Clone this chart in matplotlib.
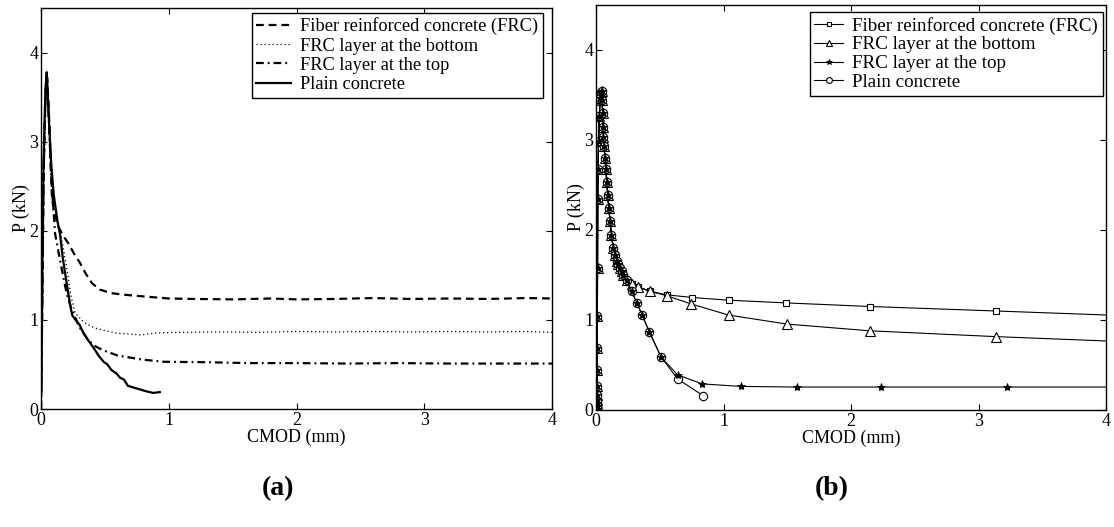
import matplotlib
matplotlib.use("Agg")
import matplotlib.pyplot as plt

plt.rcParams['font.family'] = ['Liberation Serif', 'DejaVu Serif']
plt.rcParams['mathtext.fontset'] = 'stix'

# ---------------- panel (a) data ----------------
frc_a_x = [0.0, 0.01, 0.02, 0.035, 0.048, 0.06, 0.075, 0.085, 0.1, 0.135, 0.17, 0.214, 0.26, 0.305,
           0.35, 0.4, 0.46, 0.55, 0.67, 0.83, 1.0, 1.2, 1.5, 1.8, 2.0, 2.3, 2.6, 2.9, 3.2, 3.5, 3.8, 4.0]
frc_a_y = [0.0, 1.2, 2.6, 3.5, 3.72, 3.4, 2.8, 2.4, 2.22, 2.05, 1.95, 1.86, 1.74, 1.64,
           1.52, 1.41, 1.34, 1.30, 1.28, 1.26, 1.24, 1.235, 1.23, 1.24, 1.23, 1.235, 1.245, 1.235, 1.24, 1.235, 1.245, 1.24]

bot_a_x = [0.0, 0.01, 0.02, 0.035, 0.045, 0.06, 0.08, 0.1, 0.13, 0.162, 0.2, 0.23, 0.266, 0.317, 0.36,
           0.42, 0.5, 0.6, 0.7, 0.78, 0.85, 0.93, 1.1, 1.4, 1.7, 2.0, 2.3, 2.6, 2.9, 3.2, 3.5, 3.8, 4.0]
bot_a_y = [0.0, 1.2, 2.6, 3.5, 3.7, 3.3, 2.6, 2.3, 2.1, 1.9, 1.6, 1.3, 1.08, 1.0, 0.95,
           0.91, 0.88, 0.85, 0.84, 0.83, 0.845, 0.855, 0.86, 0.865, 0.86, 0.87, 0.865, 0.87, 0.865, 0.87, 0.865, 0.87, 0.86]

top_a_x = [0.0, 0.01, 0.02, 0.035, 0.045, 0.06, 0.08, 0.11, 0.149, 0.2, 0.24, 0.3, 0.37, 0.43,
           0.485, 0.6, 0.79, 0.96, 1.3, 1.63, 2.0, 2.4, 2.8, 3.2, 3.6, 4.0]
top_a_y = [0.0, 1.2, 2.6, 3.5, 3.75, 3.3, 2.6, 1.97, 1.67, 1.3, 1.12, 0.92, 0.77, 0.7,
           0.66, 0.6, 0.555, 0.53, 0.525, 0.515, 0.515, 0.51, 0.515, 0.51, 0.51, 0.51]

plain_a_x = [0.003, 0.01, 0.02, 0.035, 0.045, 0.06, 0.08, 0.1, 0.13, 0.15, 0.17, 0.2, 0.23, 0.245, 0.27,
             0.3, 0.33, 0.37, 0.41, 0.45, 0.49, 0.52, 0.55, 0.59, 0.62, 0.65, 0.68, 0.75, 0.82, 0.88, 0.93]
plain_a_y = [0.2, 1.5, 2.8, 3.6, 3.78, 3.3, 2.75, 2.4, 2.1, 1.95, 1.7, 1.42, 1.15, 1.05, 1.0,
             0.95, 0.86, 0.77, 0.69, 0.6, 0.53, 0.5, 0.44, 0.4, 0.35, 0.33, 0.26, 0.23, 0.2, 0.18, 0.19]

# ---------------- panel (b) data ----------------
shared_b_x = [0.005, 0.008, 0.009, 0.01, 0.01, 0.01, 0.01, 0.01, 0.011, 0.011, 0.012, 0.014, 0.016,
              0.02, 0.026, 0.033, 0.04, 0.045, 0.048, 0.052, 0.055, 0.058, 0.063, 0.07, 0.077, 0.085,
              0.092, 0.1, 0.11, 0.12, 0.136, 0.15, 0.162, 0.175, 0.188, 0.2, 0.214, 0.24]
shared_b_y = [0.0, 0.01, 0.04, 0.075, 0.11, 0.17, 0.27, 0.44, 0.685, 1.05, 1.58, 2.34, 2.68,
              2.99, 3.27, 3.47, 3.53, 3.55, 3.45, 3.3, 3.14, 3.03, 2.93, 2.8, 2.68, 2.53,
              2.39, 2.25, 2.1, 1.95, 1.8, 1.72, 1.66, 1.62, 1.58, 1.54, 1.5, 1.45]

frc_b_x = [0.28, 0.33, 0.42, 0.554, 0.755, 1.04, 1.49, 2.15, 3.14, 4.4]
frc_b_y = [1.40, 1.37, 1.32, 1.28, 1.25, 1.22, 1.19, 1.15, 1.10, 1.035]

bot_b_x = [0.28, 0.33, 0.42, 0.554, 0.742, 1.04, 1.495, 2.147, 3.14, 4.4]
bot_b_y = [1.40, 1.37, 1.32, 1.27, 1.18, 1.055, 0.955, 0.88, 0.815, 0.745]

top_b_x = [0.28, 0.32, 0.36, 0.418, 0.51, 0.64, 0.833, 1.135, 1.575, 2.235, 3.225, 4.4]
top_b_y = [1.32, 1.19, 1.06, 0.87, 0.59, 0.39, 0.29, 0.262, 0.255, 0.255, 0.255, 0.255]

plain_b_x = [0.28, 0.32, 0.36, 0.418, 0.51, 0.64, 0.84]
plain_b_y = [1.32, 1.19, 1.06, 0.87, 0.59, 0.345, 0.16]

labels = ["Fiber reinforced concrete (FRC)", "FRC layer at the bottom",
          "FRC layer at the top", "Plain concrete"]
x_ticks = [0, 1, 2, 3, 4]
y_ticks = [0, 1, 2, 3, 4]

fig = plt.figure(figsize=(11.14, 5.27), dpi=100)
axa = fig.add_axes([41/1114, 118/527, 511/1114, 401/527])
axb = fig.add_axes([596/1114, 117/527, 510/1114, 405/527])

FS = 13

# panel (a)
axa.plot(frc_a_x, frc_a_y, color='black', lw=1.6, linestyle=(0, (3.5, 2.2)), label=labels[0])
axa.plot(bot_a_x, bot_a_y, color='black', lw=0.9, linestyle=(0, (1, 2.2)), label=labels[1])
axa.plot(top_a_x, top_a_y, color='black', lw=1.6, linestyle=(0, (3.5, 1.8, 0.8, 1.8)), label=labels[2])
axa.plot(plain_a_x, plain_a_y, color='black', lw=1.6, linestyle='-', label=labels[3])

# panel (b)
lw_b = 0.8
axb.plot(shared_b_x + frc_b_x, shared_b_y + frc_b_y, color='black', lw=lw_b, marker='s',
         ms=5, mfc='white', mec='black', mew=0.8, label=labels[0])
axb.plot(shared_b_x + bot_b_x, shared_b_y + bot_b_y, color='black', lw=lw_b, marker='^',
         ms=6.5, mfc='white', mec='black', mew=0.8, label=labels[1])
axb.plot(shared_b_x + plain_b_x, shared_b_y + plain_b_y, color='black', lw=lw_b, marker='o',
         ms=6, mfc='white', mec='black', mew=0.8, label=labels[3])
axb.plot(shared_b_x + top_b_x, shared_b_y + top_b_y, color='black', lw=lw_b, marker='*',
         ms=6, mfc='black', mec='black', mew=0.6, label=labels[2])

for ax in (axa, axb):
    ax.set_xlim(0, 4)
    ax.set_ylim(0, 4.5)
    ax.set_xticks(x_ticks)
    ax.set_yticks(y_ticks)
    ax.tick_params(direction='in', top=True, right=True, length=4, width=0.8,
                   labelsize=FS, pad=2)
    for s in ax.spines.values():
        s.set_linewidth(1.0)
        s.set_color('black')
    ax.set_xlabel("CMOD (mm)", fontsize=FS, labelpad=0)
    ax.set_ylabel("P (kN)", fontsize=FS, labelpad=-1)

# legends
h, l = axa.get_legend_handles_labels()
lga = axa.legend(h, l, loc='upper right', bbox_to_anchor=(0.982, 0.988), borderaxespad=0,
                 fontsize=13.2, handlelength=1.9, handletextpad=0.5, labelspacing=0.12,
                 borderpad=0.25, fancybox=False, edgecolor='black', framealpha=1)
lga.get_frame().set_linewidth(1.0)

h, l = axb.get_legend_handles_labels()
order = [0, 1, 3, 2]
lgb = axb.legend([h[i] for i in order], [l[i] for i in order], loc='upper right',
                 bbox_to_anchor=(0.994, 0.983), borderaxespad=0,
                 fontsize=13.7, handlelength=1.5, handletextpad=0.5, labelspacing=0.08,
                 borderpad=0.25, fancybox=False, edgecolor='black', framealpha=1, markerscale=0.7)
lgb.get_frame().set_linewidth(1.0)

fig.text(278/1114, 1 - 489/527, "(a)", fontsize=20, fontweight='bold', ha='center', va='center')
fig.text(832/1114, 1 - 489/527, "(b)", fontsize=20, fontweight='bold', ha='center', va='center')

fig.savefig("out.png", dpi=100)
